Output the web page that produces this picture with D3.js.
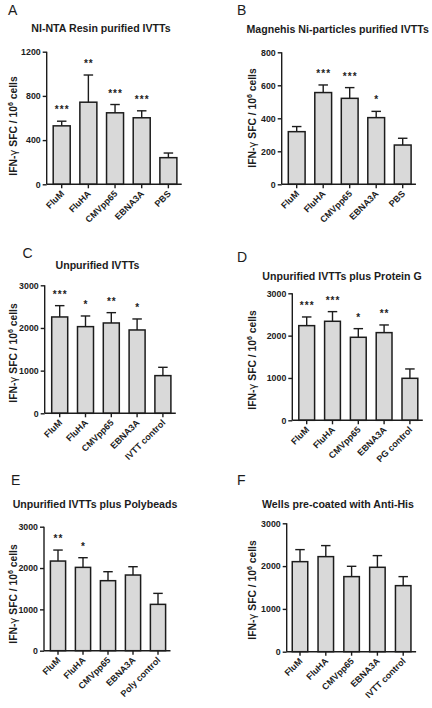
<!DOCTYPE html>
<html><head><meta charset="utf-8">
<script src="https://cdn.jsdelivr.net/npm/d3@7"></script>
<style>
html,body{margin:0;padding:0;background:#fff;}
svg{display:block;font-family:"Liberation Sans",Arial,sans-serif;}
</style></head>
<body>
<svg id="chart" width="432" height="708"></svg>
<script>
// ---------- DATA ----------
const categoriesA = ["FluM","FluHA","CMVpp65","EBNA3A","PBS"];
const meansA = [529, 743, 647, 602, 241];
const semA   = [42, 246, 75, 63, 42];
const sigA   = ["***","**","***","***",""];
const ticksA = [0, 400, 800, 1200];
const titleA = "NI-NTA Resin purified IVTTs";

const categoriesB = ["FluM","FluHA","CMVpp65","EBNA3A","PBS"];
const meansB = [319, 556, 521, 404, 238];
const semB   = [31, 46, 65, 38, 41];
const sigB   = ["","***","***","*",""];
const ticksB = [0, 200, 400, 600, 800];
const titleB = "Magnehis Ni-particles purified IVTTs";

const categoriesC = ["FluM","FluHA","CMVpp65","EBNA3A","IVTT control"];
const meansC = [2258, 2031, 2117, 1953, 883];
const semC   = [265, 250, 242, 258, 195];
const sigC   = ["***","*","**","*",""];
const ticksC = [0, 1000, 2000, 3000];
const titleC = "Unpurified IVTTs";

const categoriesD = ["FluM","FluHA","CMVpp65","EBNA3A","PG control"];
const meansD = [2236, 2339, 1961, 2071, 992];
const semD   = [205, 228, 204, 181, 221];
const sigD   = ["***","***","*","**",""];
const ticksD = [0, 1000, 2000, 3000];
const titleD = "Unpurified IVTTs plus Protein G";

const categoriesE = ["FluM","FluHA","CMVpp65","EBNA3A","Poly control"];
const meansE = [2169, 2016, 1694, 1831, 1121];
const semE   = [266, 234, 217, 201, 266];
const sigE   = ["**","*","","",""];
const ticksE = [0, 1000, 2000, 3000];
const titleE = "Unpurified IVTTs plus Polybeads";

const categoriesF = ["FluM","FluHA","CMVpp65","EBNA3A","IVTT control"];
const meansF = [2104, 2221, 1754, 1972, 1543];
const semF   = [281, 258, 241, 273, 211];
const sigF   = ["","","","",""];
const ticksF = [0, 1000, 2000, 3000];
const titleF = "Wells pre-coated with Anti-His";

// ---------- LAYOUT ----------
const panels = [
  {letter:"A", cats:categoriesA, means:meansA, sem:semA, sig:sigA, ticks:ticksA, title:titleA,
   ax:46.7, y0:184.3, yTop:51.7, fc:61.7, step:26.67, bw:18.5,
   lx:8, ly:15, tx:101, ty:32, ylx:16.5, yly:126},
  {letter:"B", cats:categoriesB, means:meansB, sem:semB, sig:sigB, ticks:ticksB, title:titleB,
   ax:281.7, y0:184.3, yTop:52.3, fc:296.7, step:26.5, bw:18.3,
   lx:237, ly:15, tx:337.7, ty:32.5, ylx:255.5, yly:118},
  {letter:"C", cats:categoriesC, means:meansC, sem:semC, sig:sigC, ticks:ticksC, title:titleC,
   ax:44.7, y0:413.3, yTop:285.3, fc:59.7, step:25.8, bw:17.5,
   lx:22.5, ly:258, tx:97.5, ty:269, ylx:16.5, yly:353},
  {letter:"D", cats:categoriesD, means:meansD, sem:semD, sig:sigD, ticks:ticksD, title:titleD,
   ax:292.3, y0:420.3, yTop:293.3, fc:306.7, step:25.8, bw:17.3,
   lx:237, ly:261.5, tx:342, ty:280, ylx:255.5, yly:360},
  {letter:"E", cats:categoriesE, means:meansE, sem:semE, sig:sigE, ticks:ticksE, title:titleE,
   ax:44, y0:650.7, yTop:526.7, fc:58, step:25, bw:16.7,
   lx:11, ly:485, tx:95, ty:507.5, ylx:16.5, yly:594},
  {letter:"F", cats:categoriesF, means:meansF, sem:semF, sig:sigF, ticks:ticksF, title:titleF,
   ax:286.7, y0:651.7, yTop:523.3, fc:300, step:25.8, bw:17,
   lx:237, ly:485, tx:338, ty:508, ylx:255.5, yly:590}
];

const svg = d3.select("#chart");
const INK = "#1c1c1c";
const FILL = "#d9d9d9";

panels.forEach(p => {
  const g = svg.append("g");
  const n = p.cats.length;
  const a = p.fc - p.step/2, b = a + n*p.step;
  const pin = 1 - (p.bw - 1.5)/p.step;
  const x = d3.scaleBand().domain(p.cats).range([a, b]).paddingInner(pin).paddingOuter(pin/2);
  const y = d3.scaleLinear().domain([0, d3.max(p.ticks)]).range([p.y0, p.yTop]);

  // bars
  g.selectAll("rect.bar").data(p.cats).join("rect")
    .attr("x", d => x(d)).attr("width", x.bandwidth())
    .attr("y", (d,i) => y(p.means[i])).attr("height", (d,i) => p.y0 - y(p.means[i]))
    .attr("fill", FILL).attr("stroke", INK).attr("stroke-width", 1.5);

  // error bars (upper only)
  const capW = 9.5;
  p.cats.forEach((c,i) => {
    const cx = x(c) + x.bandwidth()/2;
    const yt = y(p.means[i] + p.sem[i]);
    g.append("line").attr("x1", cx).attr("x2", cx).attr("y1", y(p.means[i])).attr("y2", yt)
      .attr("stroke", INK).attr("stroke-width", 1.4);
    g.append("line").attr("x1", cx - capW/2).attr("x2", cx + capW/2).attr("y1", yt).attr("y2", yt)
      .attr("stroke", INK).attr("stroke-width", 1.4);
    if (p.sig[i]) {
      g.append("text").attr("x", cx + 0.5).attr("y", yt - 8)
        .attr("text-anchor", "middle").attr("font-size", 10).attr("font-weight", "bold")
        .attr("letter-spacing", 1).attr("fill", INK).text(p.sig[i]);
    }
  });

  // y axis
  const yAxis = d3.axisLeft(y).tickValues(p.ticks).tickSize(4).tickPadding(2).tickFormat(d3.format("d"));
  const gy = g.append("g").attr("transform", `translate(${p.ax},0)`).call(yAxis);
  gy.select(".domain").attr("d", `M0,${p.y0}V${p.yTop}`).attr("stroke", INK).attr("stroke-width", 1.4);
  gy.selectAll(".tick line").attr("stroke", INK).attr("stroke-width", 1.4);
  gy.selectAll(".tick text").attr("font-size", 8.8).attr("font-weight", "bold").attr("fill", INK)
    .attr("font-family", "'Liberation Sans',Arial,sans-serif");

  // x axis
  const xAxis = d3.axisBottom(x).tickSize(4).tickPadding(2);
  const gx = g.append("g").attr("transform", `translate(0,${p.y0})`).call(xAxis);
  gx.select(".domain").attr("d", `M${p.ax},0H${b}`).attr("stroke", INK).attr("stroke-width", 1.4);
  gx.selectAll(".tick line").attr("stroke", INK).attr("stroke-width", 1.4);
  gx.selectAll(".tick text").attr("font-size", 9).attr("font-weight", "bold").attr("fill", INK)
    .attr("font-family", "'Liberation Sans',Arial,sans-serif")
    .attr("text-anchor", "end").attr("dy", null).attr("y", 0)
    .attr("transform", "translate(3,10) rotate(-45)");

  // panel letter
  g.append("text").attr("x", p.lx).attr("y", p.ly).attr("font-size", 14).attr("fill", INK).text(p.letter);
  // title
  g.append("text").attr("x", p.tx).attr("y", p.ty).attr("text-anchor", "middle")
    .attr("font-size", 10.6).attr("font-weight", "bold").attr("fill", INK).text(p.title);
  // y label
  const yl = g.append("text").attr("transform", `translate(${p.ylx},${p.yly}) rotate(-90)`)
    .attr("text-anchor", "middle").attr("font-size", 10.3).attr("font-weight", "bold").attr("fill", INK);
  yl.append("tspan").text("IFN-");
  yl.append("tspan").attr("font-weight", "normal").attr("font-family", "'DejaVu Sans',sans-serif").text("γ");
  yl.append("tspan").text(" SFC / 10");
  yl.append("tspan").attr("font-size", 7).attr("dy", -4).text("6");
  yl.append("tspan").attr("dy", 4).text(" cells");
});
</script>
</body></html>
